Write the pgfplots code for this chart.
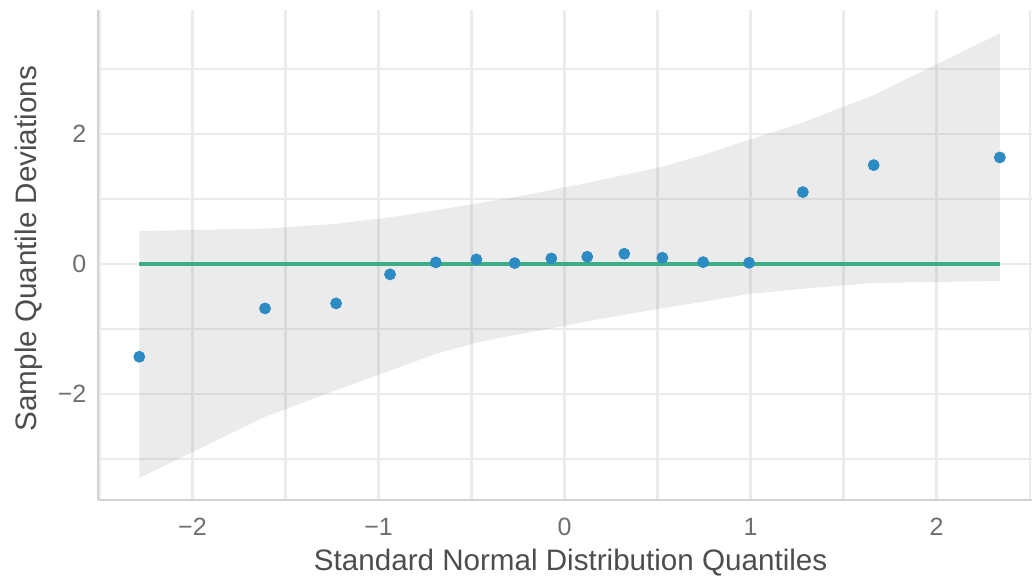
\documentclass[border=0pt]{standalone}
\usepackage{pgfplots}
\pgfplotsset{compat=1.18}
\usepackage{fontspec}
\setmainfont{Liberation Sans}
\definecolor{ptblue}{HTML}{2C8BC3}
\definecolor{lngreen}{HTML}{3BAE84}
\definecolor{gridc}{HTML}{EBEBEB}
\definecolor{tickc}{HTML}{6E6E6E}
\definecolor{labc}{HTML}{4D4D4D}
\definecolor{axc}{HTML}{D2D2D2}
\begin{document}
\begin{tikzpicture}
\path[use as bounding box] (-49pt,-39pt) rectangle (467pt,250pt);
\begin{axis}[
  at={(0pt,0pt)}, anchor=south west,
  scale only axis, width=467pt, height=245pt,
  xmin=-2.508, xmax=2.513, ymin=-3.63, ymax=3.91,
  axis x line*=bottom, axis y line*=left,
  axis line style={axc, line width=1.3pt},
  xtick={-2,-1,0,1,2}, xticklabels={−2,−1,0,1,2},
  minor xtick={-2.5,-1.5,-0.5,0.5,1.5,2.5},
  ytick={-2,0,2}, yticklabels={−2,0,2},
  minor ytick={-3,-1,1,3},
  grid=both,
  major grid style={gridc, line width=1.1pt},
  minor grid style={gridc, line width=1.1pt},
  major tick length=0pt, minor tick length=0pt,
  tick style={draw=none},
  ticklabel style={font=\fontsize{12.5}{14}\selectfont, text=tickc},
  xticklabel style={anchor=center, yshift=-13.5pt},
  yticklabel style={anchor=east, xshift=-2.3pt},
  xlabel={Standard Normal Distribution Quantiles},
  ylabel={Sample Quantile Deviations},
  label style={font=\fontsize{14.8}{16}\selectfont, text=labc},
  xlabel style={at={(axis description cs:0.506,-0.1286)}, anchor=center},
  ylabel style={at={(axis description cs:-0.0745,0.513)}, anchor=center},
  clip=false,
]
% confidence band
\addplot[draw=none, fill=black!40, fill opacity=0.2] coordinates {
  (-2.286,0.51) (-1.610,0.546) (-1.228,0.62) (-0.938,0.72) (-0.692,0.83)
  (-0.474,0.93) (-0.268,1.03) (-0.071,1.14) (0.122,1.25) (0.321,1.37)
  (0.526,1.50) (0.745,1.68) (0.992,1.91) (1.281,2.18) (1.662,2.60) (2.340,3.55)
  (2.340,-0.26) (1.662,-0.29) (1.281,-0.38) (0.992,-0.46) (0.745,-0.58)
  (0.526,-0.68) (0.321,-0.78) (0.122,-0.88) (-0.071,-0.99) (-0.268,-1.09)
  (-0.474,-1.21) (-0.692,-1.38) (-0.938,-1.64) (-1.228,-1.94) (-1.610,-2.35)
  (-2.286,-3.29)
} -- cycle;
% reference line
\addplot[lngreen, line width=2pt] coordinates {(-2.286,0) (2.340,0)};
% points
\addplot[only marks, mark=*, mark size=2.75pt, color=ptblue, mark options={draw=ptblue, fill=ptblue}] coordinates {
  (-2.286,-1.426) (-1.610,-0.682) (-1.228,-0.605) (-0.938,-0.158)
  (-0.692,0.026) (-0.474,0.072) (-0.268,0.015) (-0.071,0.087)
  (0.122,0.113) (0.321,0.159) (0.526,0.098) (0.745,0.030)
  (0.992,0.020) (1.281,1.108) (1.662,1.523) (2.340,1.641)
};
\end{axis}
\end{tikzpicture}
\end{document}
